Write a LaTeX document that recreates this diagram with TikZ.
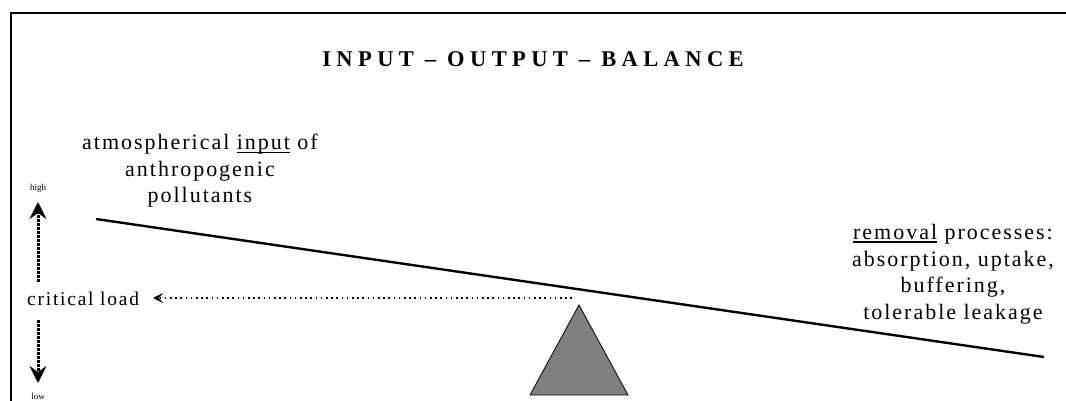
\documentclass[tikz,border=0pt]{standalone}
\usepackage{fontspec}
\setmainfont{Liberation Serif}
\newfontfamily\spacedfont[LetterSpace=9]{Liberation Serif}
\newfontfamily\titlefont[LetterSpace=24]{Liberation Serif}
\newcommand\myul[1]{\setbox0\hbox{#1}\rlap{\rule[-3pt]{\wd0}{1.3pt}}\box0\relax}
\usetikzlibrary{arrows.meta}
\tikzset{
  frame/.style={line width=2pt, line cap=rect},
  beam/.style={line width=2.4pt},
  fulcrum/.style={draw=black, line width=0.8pt, fill=black!50},
  bodytext/.style={inner sep=0pt, align=center, font=\fontsize{22}{26.5}\selectfont\spacedfont},
  smalltext/.style={inner sep=0pt, font=\fontsize{9}{10}\selectfont},
  titletext/.style={inner sep=0pt, font=\fontsize{22.5}{26}\selectfont\titlefont\bfseries},
  vdots/.style={line width=3pt, dash pattern=on 3pt off 1pt, -{Stealth[length=17pt,width=17pt,inset=6pt]}},
  hdots/.style={line width=1.6pt, dash pattern=on 1.6pt off 3.6pt, -{Stealth[length=10pt,width=10pt,inset=4pt]}}
}
\begin{document}
\begin{tikzpicture}[x=1pt,y=-1pt]
\useasboundingbox (0,0) rectangle (1066,401);
% frame
\draw[frame] (11,402) -- (11,13) -- (1067,13);
% title
\node[titletext, anchor=base] (title) at (533,67) {INPUT \textendash{} OUTPUT \textendash{} BALANCE};
% texts
\node[bodytext] (inputtxt) at (200,171) {atmospherical \myul{input} of\\ anthropogenic\\ pollutants};
\node[bodytext] (removaltxt) at (953,274) {\myul{removal} processes:\\ absorption, uptake,\\ buffering,\\ tolerable leakage};
\node[bodytext, font=\fontsize{19.5}{23}\selectfont\spacedfont, anchor=base west] (critical) at (27,305) {critical load};
\node[smalltext] (high) at (38,188) {high};
\node[smalltext] (low) at (38,396) {low};
% beam and fulcrum
\coordinate (beamL) at (96,219);
\coordinate (beamR) at (1044,357);
\draw[beam] (beamL) -- (beamR);
\coordinate (apex) at (579,305);
\coordinate (baseL) at (530,395);
\coordinate (baseR) at (628,395);
\draw[fulcrum] (apex) -- (baseL) -- (baseR) -- cycle;
% arrows
\coordinate (critstart) at (572,298);
\coordinate (crittip) at (153,298);
\draw[hdots] (critstart) -- (crittip);
\coordinate (upstart) at (38,282);
\coordinate (uptip) at (38,202);
\draw[vdots] (upstart) -- (uptip);
\coordinate (downstart) at (38,320);
\coordinate (downtip) at (38,383);
\draw[vdots] (downstart) -- (downtip);
\end{tikzpicture}
\end{document}
